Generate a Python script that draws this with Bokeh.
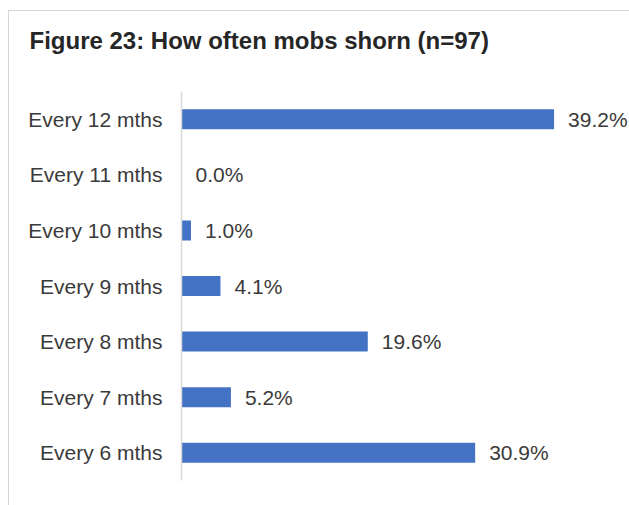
from bokeh.plotting import figure
from bokeh.models import ColumnDataSource, Title
from bokeh.core.properties import value
from bokeh.embed import file_html
from bokeh.resources import INLINE

categories = ["Every 12 mths", "Every 11 mths", "Every 10 mths", "Every 9 mths",
              "Every 8 mths", "Every 7 mths", "Every 6 mths"]
percentages = [39.2, 0.0, 1.0, 4.1, 19.6, 5.2, 30.9]
value_labels = ["39.2%", "0.0%", "1.0%", "4.1%", "19.6%", "5.2%", "30.9%"]
title_text = "Figure 23: How often mobs shorn (n=97)"

W, H = 625, 500
FONT = "Liberation Sans"
TXT = "#3a3a3a"

src = ColumnDataSource(dict(cat=categories, pct=percentages, lab=value_labels))

p = figure(width=W, height=H, output_backend="svg", toolbar_location=None,
           y_range=list(reversed(categories)), x_range=(0, 47.14),
           x_axis_location=None,
           min_border_left=173, min_border_right=4, min_border_top=81, min_border_bottom=30)
p.outline_line_color = None
p.grid.visible = False
p.background_fill_color = "white"
p.border_fill_color = "white"

# spacer between title and plot area
spacer = Title(text=" ", text_font_size="1px", standoff=21)
p.add_layout(spacer, "above")

p.title.text = title_text
p.title.align = "left"
p.title.offset = -152
p.title.standoff = 27
p.title.text_font = FONT
p.title.text_font_size = "24px"
p.title.text_font_style = "bold"
p.title.text_color = "#262626"

p.hbar(y="cat", right="pct", left=0, height=0.36, source=src,
       fill_color="#4472C4", line_color=None)

p.text(x="pct", y="cat", text="lab", source=src, x_offset=14,
       text_baseline="middle", text_align="left",
       text_font=value(FONT), text_font_size="21px", text_color=TXT)

ax = p.yaxis[0]
ax.axis_line_color = "#d9d9d9"
ax.axis_line_width = 1.5
ax.major_tick_line_color = None
ax.minor_tick_line_color = None
ax.major_tick_out = 0
ax.major_tick_in = 0
ax.major_label_standoff = 19
ax.major_label_text_font = FONT
ax.major_label_text_font_size = "21px"
ax.major_label_text_color = TXT

p.styles = {"position": "relative", "left": "8px", "top": "10px",
            "outline": "2px solid #c8c8c8", "outline-offset": "-2px"}

open("out.html", "w").write(file_html(p, INLINE))
